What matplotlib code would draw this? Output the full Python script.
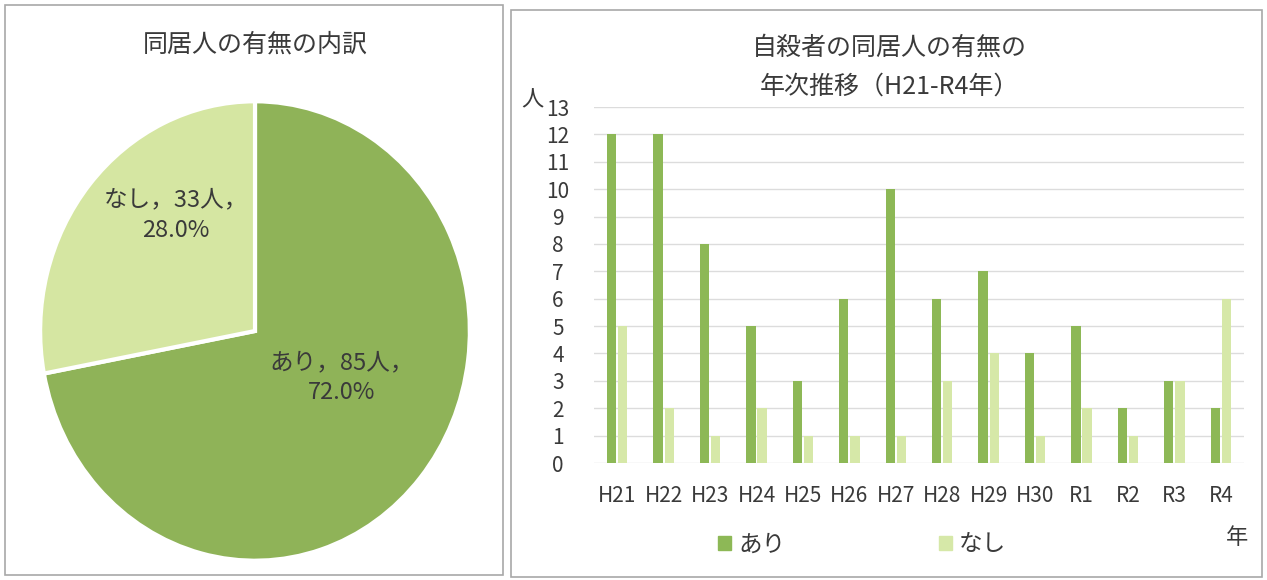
import numpy as np
import matplotlib
matplotlib.use("Agg")
import matplotlib.pyplot as plt
from matplotlib.patches import Rectangle, Patch

plt.rcParams['font.family'] = ['Noto Sans CJK JP', 'DejaVu Sans']

##### Data #####
pie_names = ['あり', 'なし']
pie_counts = [85, 33]

years = ['H21', 'H22', 'H23', 'H24', 'H25', 'H26', 'H27',
         'H28', 'H29', 'H30', 'R1', 'R2', 'R3', 'R4']
with_cohabitant = [12, 12, 8, 5, 3, 6, 10, 6, 7, 4, 5, 2, 3, 2]
without_cohabitant = [5, 2, 1, 2, 1, 1, 1, 3, 4, 1, 2, 1, 3, 6]

DARK = '#8db856'
LIGHT = '#d6e8a8'
PIE_DARK = '#8fb358'
PIE_LIGHT = '#d5e6a2'
TEXT = '#3a3a3a'

W, H = 1267, 580


def px(x0, y0, x1, y1):
    # pixel box (top-left origin) -> figure fraction rect
    return [x0 / W, 1 - y1 / H, (x1 - x0) / W, (y1 - y0) / H]


fig = plt.figure(figsize=(W / 100, H / 100), dpi=100)
fig.patch.set_facecolor('white')

# panel frames
for (x0, y0, x1, y1) in [(5, 5, 503, 575), (511, 10, 1262, 577)]:
    fig.patches.append(Rectangle((x0 / W, 1 - y1 / H), (x1 - x0) / W, (y1 - y0) / H,
                                 transform=fig.transFigure, fill=False,
                                 edgecolor='#a8a8a8', linewidth=1.2))

##### Pie chart #####
ax_pie = fig.add_axes(px(38, 99, 472, 563))
ax_pie.pie(pie_counts, colors=[PIE_DARK, PIE_LIGHT], startangle=90,
           counterclock=False, radius=1,
           wedgeprops=dict(edgecolor='white', linewidth=3))
ax_pie.set_xlim(-1.01, 1.01)
ax_pie.set_ylim(-1.01, 1.01)
ax_pie.set_aspect('auto')
ax_pie.axis('off')

total = sum(pie_counts)
label_pos = [(0.70, 0.40), (0.318, 0.75)]
for name, n, (lx, ly) in zip(pie_names, pie_counts, label_pos):
    ax_pie.text(lx, ly, f"{name}，{n}人，\n{n / total * 100:.1f}%",
                transform=ax_pie.transAxes, ha='center', va='center',
                multialignment='center', fontsize=17, color=TEXT,
                linespacing=1.4)

fig.text(255 / W, 1 - 45 / H, '同居人の有無の内訳', ha='center', va='center',
         fontsize=18, color=TEXT)

##### Bar chart #####
ax = fig.add_axes(px(594, 107, 1244, 463))
x = np.arange(len(years))
ax.bar(x - 0.12, with_cohabitant, 0.2, color=DARK, zorder=3)
ax.bar(x + 0.12, without_cohabitant, 0.2, color=LIGHT, zorder=3)
ax.set_xlim(-0.5, len(years) - 0.5)
ax.set_ylim(0, 13)
ax.set_yticks(range(0, 14))
ax.set_xticks(x)
ax.set_xticklabels(years)
ax.grid(axis='y', color='#dcdcdc', linewidth=1, zorder=0)
ax.tick_params(length=0, labelsize=15, colors=TEXT)
ax.tick_params(axis='x', pad=16)
ax.tick_params(axis='y', pad=26)
for lbl in ax.get_yticklabels():
    lbl.set_horizontalalignment('center')
for s in ax.spines.values():
    s.set_visible(False)

fig.text(889 / W, 1 - 48 / H, '自殺者の同居人の有無の', ha='center', va='center',
         fontsize=18, color=TEXT)
fig.text(889 / W, 1 - 87 / H, '年次推移（H21-R4年）', ha='center', va='center',
         fontsize=18, color=TEXT)
fig.text(532 / W, 1 - 100 / H, '人', ha='center', va='center', fontsize=16, color=TEXT)
fig.text(1237 / W, 1 - 537 / H, '年', ha='center', va='center', fontsize=16, color=TEXT)

handles = [Patch(color=DARK), Patch(color=LIGHT)]
fig.legend(handles, pie_names, loc='center', bbox_to_anchor=(862 / W, 1 - 545 / H),
           ncol=2, frameon=False, fontsize=17, columnspacing=6.5,
           handlelength=0.55, handleheight=0.55, handletextpad=0.3,
           labelcolor=TEXT)

fig.savefig('out.png', dpi=100, facecolor='white')
